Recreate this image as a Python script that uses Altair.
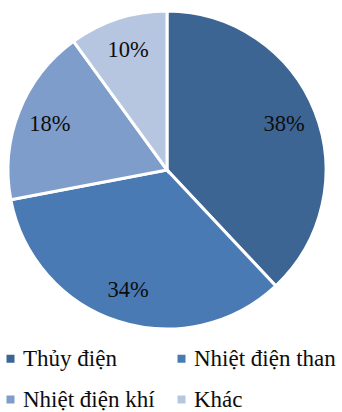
import altair as alt
import pandas as pd

categories = ["Thủy điện", "Nhiệt điện than", "Nhiệt điện khí", "Khác"]
values = [38, 34, 18, 10]
labels = ["38%", "34%", "18%", "10%"]
colors = ["#3D6594", "#4A7AB3", "#7F9DCB", "#B7C6E0"]

df = pd.DataFrame({
    "cat": categories,
    "val": values,
    "label": labels,
    "idx": list(range(len(categories))),
})

cx, cy = 167, 170

base = alt.Chart(df).encode(
    theta=alt.Theta("val:Q", stack=True),
    order=alt.Order("idx:Q"),
)

arcs = base.mark_arc(outerRadius=159, stroke="white", strokeWidth=3).encode(
    x=alt.value(cx),
    y=alt.value(cy),
    color=alt.Color(
        "cat:N",
        scale=alt.Scale(domain=categories, range=colors),
        sort=categories,
        legend=alt.Legend(
            orient="none",
            direction="horizontal",
            legendX=-1,
            legendY=347,
            columns=2,
            title=None,
            symbolType="square",
            symbolSize=64,
            symbolStrokeWidth=0,
            symbolOffset=0,
            labelFont="Liberation Serif",
            labelFontSize=23,
            labelColor="#0d0d0d",
            labelOffset=1,
            labelLimit=300,
            columnPadding=15,
            rowPadding=17,
            padding=0,
            offset=0,
        ),
    ),
)

texts = base.mark_text(
    radius=126, font="Liberation Serif", fontSize=22.5, color="#0d0d0d"
).encode(
    x=alt.value(cx),
    y=alt.value(cy),
    text="label:N",
)

chart = (arcs + texts).properties(
    width=342, height=412, padding=0, autosize=alt.AutoSizeParams(type="none")
).configure_view(stroke=None)

chart.save("out.html", embed_options={"renderer": "svg", "actions": False})
